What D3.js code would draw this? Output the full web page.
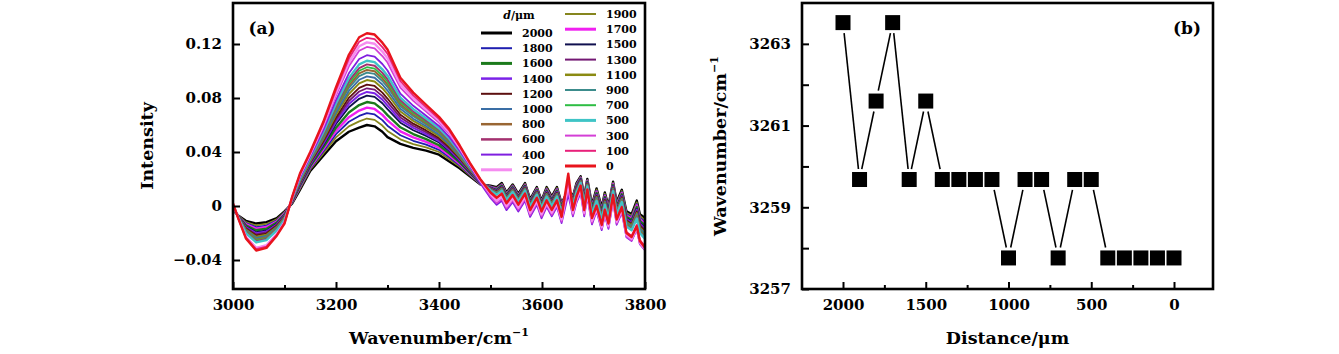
<!DOCTYPE html>
<html><head><meta charset="utf-8">
<script src="https://cdn.jsdelivr.net/npm/d3@7"></script>
<style>body{margin:0;background:#fff}svg{display:block}text{font-family:"DejaVu Serif",serif;fill:#000}</style>
</head><body><svg id="c" width="1339" height="354"></svg>
<script>
// ---------- Panel (a): spectra ----------
const wavenumbers=[3000,3010,3025,3045,3065,3085,3100,3115,3130,3150,3175,3200,3225,3245,3260,3275,3290,3300,3325,3350,3375,3400,3420,3440,3460,3480,3500,3512,3522,3531,3543,3554,3567,3577,3590,3599,3609,3619,3629,3638,3651,3660,3667,3675,3682,3688,3697,3706,3716,3722,3729,3738,3745,3755,3764,3774,3784,3790,3800];
const d2000=[-0.003,-0.007,-0.011,-0.013,-0.012,-0.009,-0.004,0.002,0.012,0.026,0.037,0.048,0.055,0.058,0.060,0.059,0.055,0.051,0.046,0.043,0.041,0.038,0.033,0.028,0.022,0.016,0.015,0.014,0.017,0.010,0.016,0.009,0.017,0.005,0.014,0.004,0.014,0.007,0.014,0.002,0.012,0.007,0.017,0.022,0.007,0.020,0.001,0.013,-0.001,0.010,0.000,0.018,0.003,0.012,-0.004,-0.006,0.004,-0.006,-0.009];
const d1900=[-0.0026,-0.0071,-0.0119,-0.0144,-0.0133,-0.0099,-0.0046,0.0024,0.0128,0.027,0.0388,0.0508,0.059,0.0627,0.0648,0.0638,0.0596,0.0556,0.0494,0.0459,0.0434,0.040,0.0347,0.0292,0.0227,0.0163,0.0146,0.0134,0.0164,0.0094,0.0154,0.0084,0.0164,0.0044,0.0134,0.0034,0.0133,0.0063,0.0133,0.0013,0.0123,0.0063,0.0163,0.0215,0.0063,0.0194,0.0003,0.0121,-0.0019,0.0091,-0.0009,0.0173,0.0021,0.0111,-0.0051,-0.0072,0.0027,-0.0074,-0.0105];
const d1800=[-0.0023,-0.0073,-0.0127,-0.0156,-0.0145,-0.0107,-0.0052,0.0027,0.0136,0.0278,0.0403,0.0532,0.0624,0.0667,0.0688,0.0678,0.0636,0.0595,0.0524,0.0483,0.0454,0.0416,0.0361,0.0302,0.0233,0.0165,0.0143,0.013,0.016,0.009,0.015,0.008,0.016,0.004,0.013,0.003,0.0127,0.0057,0.0127,0.0007,0.0125,0.0057,0.0157,0.0211,0.0057,0.019,-0.0003,0.0113,-0.0027,0.0083,-0.0017,0.0167,0.0013,0.0103,-0.0061,-0.0082,0.0015,-0.0086,-0.0119];
const d1700=[-0.002,-0.0074,-0.0135,-0.0168,-0.0156,-0.0115,-0.0057,0.003,0.0143,0.0287,0.0418,0.0556,0.0658,0.0707,0.0729,0.0719,0.0675,0.0634,0.0553,0.0508,0.0475,0.0433,0.0376,0.0312,0.0239,0.0168,0.014,0.0125,0.0155,0.0085,0.0145,0.0075,0.0155,0.0035,0.0125,0.0025,0.0121,0.0051,0.0121,0.0001,0.0128,0.0051,0.0151,0.0207,0.0051,0.0185,-0.0009,0.0105,-0.0035,0.0075,-0.0025,0.0161,0.0005,0.0095,-0.007,-0.0092,0.0004,-0.0098,-0.0132];
const d1600=[-0.0017,-0.0075,-0.0143,-0.018,-0.0168,-0.0123,-0.0063,0.0033,0.015,0.0295,0.0433,0.058,0.0693,0.0748,0.077,0.076,0.0715,0.0673,0.0583,0.0533,0.0495,0.045,0.039,0.0323,0.0245,0.017,0.0137,0.012,0.015,0.008,0.014,0.007,0.015,0.003,0.012,0.002,0.0115,0.0045,0.0115,-0.0005,0.013,0.0045,0.0145,0.0202,0.0045,0.018,-0.0015,0.0097,-0.0043,0.0067,-0.0033,0.0155,-0.0003,0.0087,-0.008,-0.0103,-0.0008,-0.011,-0.0145];
const d1500=[-0.0014,-0.0076,-0.0152,-0.0194,-0.0181,-0.0132,-0.0069,0.0036,0.0158,0.0305,0.045,0.0608,0.0732,0.0794,0.0818,0.0808,0.0761,0.0718,0.0617,0.0561,0.0519,0.047,0.0407,0.0334,0.0252,0.0173,0.0134,0.0114,0.0144,0.0074,0.0134,0.0064,0.0144,0.0024,0.0114,0.0014,0.0108,0.0038,0.0108,-0.0012,0.0133,0.0038,0.0138,0.0198,0.0038,0.0174,-0.0022,0.0088,-0.0052,0.0058,-0.0042,0.0148,-0.0012,0.0078,-0.0091,-0.0114,-0.0021,-0.0124,-0.016];
const d1400=[-0.0012,-0.0077,-0.0157,-0.0202,-0.0188,-0.0137,-0.0072,0.0038,0.0163,0.031,0.046,0.0624,0.0755,0.0821,0.0845,0.0835,0.0788,0.0744,0.0636,0.0578,0.0532,0.0481,0.0416,0.0341,0.0256,0.0174,0.0132,0.0111,0.0141,0.0071,0.0131,0.0061,0.0141,0.0021,0.0111,0.0011,0.0104,0.0034,0.0104,-0.0016,0.0135,0.0034,0.0134,0.0195,0.0034,0.0171,-0.0026,0.0083,-0.0057,0.0053,-0.0047,0.0144,-0.0017,0.0073,-0.0098,-0.0121,-0.0028,-0.0132,-0.0169];
const d1300=[-0.001,-0.0078,-0.0162,-0.021,-0.0196,-0.0142,-0.0076,0.004,0.0168,0.0316,0.047,0.064,0.0778,0.0848,0.0872,0.0862,0.0814,0.077,0.0656,0.0594,0.0546,0.0492,0.0426,0.0348,0.026,0.0176,0.013,0.0108,0.0138,0.0068,0.0128,0.0058,0.0138,0.0018,0.0108,0.0008,0.01,0.003,0.01,-0.002,0.0137,0.003,0.013,0.0192,0.003,0.0168,-0.003,0.0078,-0.0062,0.0048,-0.0052,0.014,-0.0022,0.0068,-0.0104,-0.0128,-0.0036,-0.014,-0.0178];
const d1200=[-0.0008,-0.0079,-0.0167,-0.0218,-0.0204,-0.0147,-0.008,0.0042,0.0173,0.0322,0.048,0.0656,0.0801,0.0875,0.0899,0.0889,0.084,0.0796,0.0676,0.061,0.056,0.0503,0.0436,0.0355,0.0264,0.0178,0.0128,0.0105,0.0135,0.0065,0.0125,0.0055,0.0135,0.0015,0.0105,0.0005,0.0096,0.0026,0.0096,-0.0024,0.0139,0.0026,0.0126,0.0189,0.0026,0.0165,-0.0034,0.0073,-0.0067,0.0043,-0.0057,0.0136,-0.0027,0.0063,-0.011,-0.0135,-0.0044,-0.0148,-0.0187];
const d1100=[-0.0005,-0.008,-0.0174,-0.0228,-0.0213,-0.0154,-0.0084,0.0045,0.0179,0.0329,0.0493,0.0676,0.0829,0.0908,0.0933,0.0923,0.0873,0.0829,0.07,0.0631,0.0577,0.0517,0.0448,0.0363,0.0269,0.018,0.0125,0.0101,0.0131,0.0061,0.0121,0.0051,0.0131,0.0011,0.0101,0.0001,0.0091,0.0021,0.0091,-0.0029,0.0141,0.0021,0.0121,0.0186,0.0021,0.0161,-0.0039,0.0066,-0.0074,0.0036,-0.0064,0.0131,-0.0034,0.0056,-0.0118,-0.0143,-0.0053,-0.0158,-0.0198];
const d1000=[-0.0003,-0.0081,-0.0179,-0.0236,-0.0221,-0.0159,-0.0088,0.0047,0.0184,0.0334,0.0503,0.0692,0.0852,0.0935,0.096,0.095,0.09,0.0855,0.072,0.0647,0.059,0.0528,0.0457,0.037,0.0273,0.0181,0.0123,0.0098,0.0128,0.0058,0.0118,0.0048,0.0128,0.0008,0.0098,-0.0002,0.0087,0.0017,0.0087,-0.0033,0.0143,0.0017,0.0117,0.0183,0.0017,0.0158,-0.0043,0.0061,-0.0079,0.0031,-0.0069,0.0127,-0.0039,0.0051,-0.0125,-0.015,-0.0061,-0.0166,-0.0207];
const d900=[-0.0001,-0.0081,-0.0184,-0.0244,-0.0228,-0.0164,-0.0091,0.0049,0.0188,0.034,0.0513,0.0708,0.0875,0.0962,0.0988,0.0978,0.0926,0.0881,0.0739,0.0664,0.0604,0.054,0.0467,0.0377,0.0277,0.0183,0.0121,0.0094,0.0124,0.0054,0.0114,0.0044,0.0124,0.0004,0.0094,-0.0006,0.0083,0.0013,0.0083,-0.0037,0.0145,0.0013,0.0113,0.018,0.0013,0.0154,-0.0047,0.0056,-0.0084,0.0026,-0.0074,0.0123,-0.0044,0.0046,-0.0131,-0.0157,-0.0068,-0.0174,-0.0215];
const d800=[0,-0.0082,-0.0188,-0.025,-0.0234,-0.0168,-0.0094,0.005,0.0192,0.0344,0.052,0.072,0.0892,0.0982,0.1008,0.0998,0.0946,0.09,0.0754,0.0676,0.0614,0.0548,0.0474,0.0382,0.028,0.0184,0.012,0.0092,0.0122,0.0052,0.0112,0.0042,0.0122,0.0002,0.0092,-0.0008,0.008,0.001,0.008,-0.004,0.0147,0.001,0.011,0.0178,0.001,0.0152,-0.005,0.0052,-0.0088,0.0022,-0.0078,0.012,-0.0048,0.0042,-0.0136,-0.0162,-0.0074,-0.018,-0.0222];
const d700=[0.0002,-0.0083,-0.0192,-0.0256,-0.024,-0.0172,-0.0097,0.0052,0.0196,0.0348,0.0528,0.0732,0.0909,0.1002,0.1028,0.1018,0.0966,0.092,0.0769,0.0688,0.0624,0.0556,0.0481,0.0387,0.0283,0.0185,0.0118,0.009,0.012,0.005,0.011,0.004,0.012,0,0.009,-0.001,0.0077,0.0007,0.0077,-0.0043,0.0149,0.0007,0.0107,0.0176,0.0007,0.015,-0.0053,0.0048,-0.0092,0.0018,-0.0082,0.0117,-0.0052,0.0038,-0.0141,-0.0167,-0.008,-0.0186,-0.0229];
const d600=[0.0003,-0.0083,-0.0196,-0.0262,-0.0245,-0.0176,-0.0099,0.0053,0.0199,0.0352,0.0535,0.0744,0.0926,0.1022,0.1049,0.1039,0.0986,0.0939,0.0783,0.0701,0.0634,0.0565,0.0488,0.0392,0.0286,0.0186,0.0117,0.0087,0.0117,0.0047,0.0107,0.0037,0.0117,-0.0003,0.0087,-0.0013,0.0074,0.0004,0.0074,-0.0046,0.015,0.0004,0.0104,0.0174,0.0004,0.0147,-0.0056,0.0044,-0.0096,0.0014,-0.0086,0.0114,-0.0056,0.0034,-0.0146,-0.0172,-0.0085,-0.0192,-0.0235];
const d500=[0.0005,-0.0084,-0.0201,-0.027,-0.0253,-0.0181,-0.0103,0.0055,0.0204,0.0358,0.0545,0.076,0.0949,0.1049,0.1076,0.1066,0.1012,0.0965,0.0803,0.0717,0.0648,0.0576,0.0498,0.0399,0.029,0.0188,0.0115,0.0084,0.0114,0.0044,0.0104,0.0034,0.0114,-0.0006,0.0084,-0.0016,0.007,0,0.007,-0.005,0.0152,0,0.01,0.0171,0,0.0144,-0.006,0.0039,-0.0101,0.0009,-0.0091,0.011,-0.0061,0.0029,-0.0152,-0.0179,-0.0093,-0.02,-0.0244];
const d400=[0.0008,-0.0085,-0.0229,-0.0312,-0.0294,-0.0209,-0.0118,0.0058,0.0211,0.0366,0.056,0.0784,0.0983,0.1089,0.1117,0.1107,0.1052,0.1004,0.0832,0.0742,0.0668,0.0593,0.0512,0.0409,0.0296,0.017,0.006,0.0009,0.0039,-0.0031,0.0029,-0.0041,0.0039,-0.0081,0.0009,-0.0091,-0.0006,-0.0076,-0.0006,-0.0126,0.0085,-0.0076,0.0024,0.0097,-0.0076,0.0069,-0.0136,-0.0039,-0.0179,-0.0069,-0.0169,0.0034,-0.0139,-0.0049,-0.0232,-0.0259,-0.0174,-0.0282,-0.0327];
const d300=[0.0013,-0.0087,-0.023,-0.0315,-0.0297,-0.021,-0.0122,0.0063,0.0222,0.0379,0.0583,0.082,0.1035,0.115,0.1178,0.1168,0.1111,0.1063,0.0877,0.0779,0.0699,0.0618,0.0534,0.0425,0.0305,0.0184,0.007,0.0022,0.0052,-0.0018,0.0042,-0.0028,0.0052,-0.0068,0.0022,-0.0078,0.0005,-0.0065,0.0005,-0.0115,0.012,-0.0065,0.0035,0.011,-0.0065,0.0082,-0.0125,-0.003,-0.017,-0.006,-0.016,0.0045,-0.013,-0.004,-0.0226,-0.0255,-0.0172,-0.028,-0.0327];
const d200=[0.0015,-0.0088,-0.0227,-0.031,-0.0291,-0.0207,-0.0121,0.0065,0.0228,0.0386,0.0595,0.084,0.1063,0.1183,0.1212,0.1202,0.1144,0.1095,0.0901,0.0799,0.0716,0.0632,0.0546,0.0433,0.031,0.019,0.009,0.0038,0.0068,-0.0002,0.0058,-0.0012,0.0068,-0.0052,0.0038,-0.0062,0.002,-0.005,0.002,-0.01,0.016,-0.005,0.005,0.0127,-0.005,0.0098,-0.011,-0.0017,-0.0157,-0.0047,-0.0147,0.006,-0.0117,-0.0027,-0.0214,-0.0243,-0.0161,-0.027,-0.0318];
const d100=[0.0018,-0.0089,-0.0234,-0.032,-0.03,-0.0214,-0.0126,0.0068,0.0234,0.0393,0.0608,0.086,0.1092,0.1217,0.1246,0.1236,0.1177,0.1128,0.0926,0.082,0.0733,0.0646,0.0558,0.0442,0.0315,0.0198,0.0102,0.0064,0.0094,0.0024,0.0084,0.0014,0.0094,-0.0026,0.0064,-0.0036,0.0045,-0.0025,0.0045,-0.0075,0.020,-0.0025,0.0075,0.0153,-0.0025,0.0124,-0.0085,0.0006,-0.0134,-0.0024,-0.0124,0.0085,-0.0094,-0.0004,-0.0192,-0.0222,-0.014,-0.025,-0.0299];
const d0=[0.002,-0.009,-0.024,-0.033,-0.031,-0.022,-0.013,0.007,0.024,0.040,0.062,0.088,0.112,0.125,0.128,0.127,0.121,0.116,0.095,0.084,0.075,0.066,0.057,0.045,0.032,0.020,0.010,0.006,0.009,0.002,0.008,0.001,0.009,-0.003,0.006,-0.004,0.004,-0.003,0.004,-0.008,0.024,-0.003,0.007,0.015,-0.003,0.012,-0.009,0.000,-0.014,-0.003,-0.013,0.008,-0.010,-0.001,-0.020,-0.023,-0.015,-0.026,-0.031];

const distances=[2000,1900,1800,1700,1600,1500,1400,1300,1200,1100,1000,900,800,700,600,500,400,300,200,100,0];
const spectra=[d2000,d1900,d1800,d1700,d1600,d1500,d1400,d1300,d1200,d1100,d1000,d900,d800,d700,d600,d500,d400,d300,d200,d100,d0];
const seriesColors=["#000000","#86861e","#1f1fb0","#f020f0","#1b7a1b","#10104f","#7b22e8","#731873","#5c0f0f","#8a8a12","#3a6ea5","#3c8c8c","#996633","#2ebd44","#a3316f","#3fc4c6","#7f1fe0","#d43fd6","#f58cf0","#e8207a","#e8141c"];
const seriesWidths=[3,2,2,3,3,2,2.5,2,2,2.5,2,2,2.5,2,2.5,3,2,2,3,2,3];
const legendCol1=[2000,1800,1600,1400,1200,1000,800,600,400,200];
const legendCol2=[1900,1700,1500,1300,1100,900,700,500,300,100,0];

const xTicksA=[3000,3200,3400,3600,3800];
const xMinorA=[3100,3300,3500,3700];
const yTicksA=[-0.04,0,0.04,0.08,0.12];
const yTickLabelsA=["\u22120.04","0","0.04","0.08","0.12"];

// ---------- Panel (b): peak position ----------
const distancesB=[2000,1900,1800,1700,1600,1500,1400,1300,1200,1100,1000,900,800,700,600,500,400,300,200,100,0];
const peakWavenumbers=[3263.52,3259.68,3261.6,3263.52,3259.68,3261.6,3259.68,3259.68,3259.68,3259.68,3257.76,3259.68,3259.68,3257.76,3259.68,3259.68,3257.76,3257.76,3257.76,3257.76,3257.76];
const xTicksB=[2000,1500,1000,500,0];
const xMinorB=[1750,1250,750,250];
const yTicksB=[3257,3259,3261,3263];
const yMinorB=[3258,3260,3262];

const svg=d3.select("#c");
const TICK_FS=15, TITLE_FS=17.5;

// ===== Panel A =====
const A={l:233,r:645,t:3,b:289};
const xA=d3.scaleLinear().domain([3000,3800]).range([A.l,A.r]);
const yA0=d3.scaleLinear().domain([-0.04,0.12]).range([260,44]);
const yA=d3.scaleLinear().domain([yA0.invert(A.b),yA0.invert(A.t)]).range([A.b,A.t]);

svg.append("clipPath").attr("id","clipA").append("rect")
  .attr("x",A.l).attr("y",A.t).attr("width",A.r-A.l).attr("height",A.b-A.t);

const lineA=d3.line().x((d,i)=>xA(wavenumbers[i])).y(d=>yA(d));
const gLines=svg.append("g").attr("clip-path","url(#clipA)");
spectra.forEach((s,k)=>{
  gLines.append("path").attr("d",lineA(s)).attr("fill","none")
    .attr("stroke",seriesColors[k]).attr("stroke-width",Math.max(1.8,seriesWidths[k]*0.8))
    .attr("stroke-linejoin","round");
});

function styleAxis(g){
  g.select(".domain").remove();
  g.selectAll(".tick line").attr("stroke","#000").attr("stroke-width",2);
  g.selectAll("text").attr("font-family","DejaVu Serif").attr("font-size",TICK_FS)
    .attr("font-weight","bold").attr("fill","#000");
}
svg.append("g").attr("transform",`translate(0,${A.b})`)
  .call(d3.axisBottom(xA).tickValues(xTicksA).tickSize(-7).tickPadding(10).tickFormat(d3.format("d")))
  .call(styleAxis);
svg.append("g").attr("transform",`translate(0,${A.b})`)
  .call(d3.axisBottom(xA).tickValues(xMinorA).tickSize(-4).tickFormat(""))
  .call(styleAxis);
svg.append("g").attr("transform",`translate(${A.l},0)`)
  .call(d3.axisLeft(yA).tickValues(yTicksA).tickSize(-7).tickPadding(11).tickFormat((d,i)=>yTickLabelsA[i]))
  .call(styleAxis);
svg.append("rect").attr("x",A.l).attr("y",A.t).attr("width",A.r-A.l).attr("height",A.b-A.t)
  .attr("fill","none").attr("stroke","#000").attr("stroke-width",2.6);

svg.append("text").attr("x",262).attr("y",34).attr("text-anchor","middle")
  .attr("font-size",17).attr("font-weight","bold").text("(a)");

// axis titles A
const tA=svg.append("text").attr("x",(A.l+A.r)/2).attr("y",344).attr("text-anchor","middle")
  .attr("font-size",TITLE_FS).attr("font-weight","bold");
tA.append("tspan").text("Wavenumber/cm");
tA.append("tspan").attr("dy",-8).attr("font-size",11).text("\u22121");
svg.append("text").attr("transform",`translate(153,${(A.t+A.b)/2}) rotate(-90)`)
  .attr("text-anchor","middle").attr("font-size",TITLE_FS).attr("font-weight","bold").text("Intensity");

// legend
const legend=svg.append("g").attr("font-size",11).attr("font-weight","bold");
const hdr=legend.append("text").attr("x",519).attr("y",19).attr("text-anchor","middle");
hdr.append("tspan").attr("font-style","italic").text("d");
hdr.append("tspan").text("/\u03bcm");
function legendEntry(d,x1,y){
  const k=distances.indexOf(d);
  legend.append("line").attr("x1",x1).attr("x2",x1+31).attr("y1",y).attr("y2",y)
    .attr("stroke",seriesColors[k]).attr("stroke-width",seriesWidths[k]);
  legend.append("text").attr("x",x1+41).attr("y",y+4).text(d);
}
legendCol1.forEach((d,i)=>legendEntry(d,481,33+15.2*i));
legendCol2.forEach((d,i)=>legendEntry(d,565,14+15.2*i));

// ===== Panel B =====
const B={l:802,r:1213,t:3,b:289};
const xB0=d3.scaleLinear().domain([2000,0]).range([843,1174]);
const xB=d3.scaleLinear().domain([xB0.invert(B.l),xB0.invert(B.r)]).range([B.l,B.r]);
const yB=d3.scaleLinear().domain([3257,3264]).range([B.b,B.t]);

svg.append("g").attr("transform",`translate(0,${B.b})`)
  .call(d3.axisBottom(xB).tickValues(xTicksB).tickSize(-7).tickPadding(10).tickFormat(d3.format("d")))
  .call(styleAxis);
svg.append("g").attr("transform",`translate(0,${B.b})`)
  .call(d3.axisBottom(xB).tickValues(xMinorB).tickSize(-4).tickFormat(""))
  .call(styleAxis);
svg.append("g").attr("transform",`translate(${B.l},0)`)
  .call(d3.axisLeft(yB).tickValues(yTicksB).tickSize(-7).tickPadding(11).tickFormat(d3.format("d")))
  .call(styleAxis);
svg.append("g").attr("transform",`translate(${B.l},0)`)
  .call(d3.axisLeft(yB).tickValues(yMinorB).tickSize(-7).tickFormat(""))
  .call(styleAxis);
svg.append("rect").attr("x",B.l).attr("y",B.t).attr("width",B.r-B.l).attr("height",B.b-B.t)
  .attr("fill","none").attr("stroke","#000").attr("stroke-width",2.6);

// connecting segments with gaps around symbols
const half=7.5, gap=3;
const pts=distancesB.map((d,i)=>[xB(d),yB(peakWavenumbers[i])]);
const gSeg=svg.append("g");
for(let i=0;i<pts.length-1;i++){
  const [x1,y1]=pts[i],[x2,y2]=pts[i+1];
  const dx=x2-x1,dy=y2-y1,L=Math.hypot(dx,dy);
  const ux=dx/L,uy=dy/L;
  const trim=half/Math.max(Math.abs(ux),Math.abs(uy))+gap;
  if(L>2*trim){
    gSeg.append("line").attr("x1",x1+ux*trim).attr("y1",y1+uy*trim)
      .attr("x2",x2-ux*trim).attr("y2",y2-uy*trim)
      .attr("stroke","#000").attr("stroke-width",1.6);
  }
}
svg.append("g").selectAll("rect").data(pts).join("rect")
  .attr("x",d=>d[0]-half).attr("y",d=>d[1]-half).attr("width",2*half).attr("height",2*half)
  .attr("fill","#000");

svg.append("text").attr("x",1187).attr("y",34).attr("text-anchor","middle")
  .attr("font-size",17).attr("font-weight","bold").text("(b)");

svg.append("text").attr("x",(B.l+B.r)/2).attr("y",344).attr("text-anchor","middle")
  .attr("font-size",TITLE_FS).attr("font-weight","bold").text("Distance/\u03bcm");
const tB=svg.append("text").attr("transform",`translate(726,${(B.t+B.b)/2}) rotate(-90)`)
  .attr("text-anchor","middle").attr("font-size",TITLE_FS).attr("font-weight","bold");
tB.append("tspan").text("Wavenumber/cm");
tB.append("tspan").attr("dy",-8).attr("font-size",11).text("\u22121");
</script>
</body></html>
